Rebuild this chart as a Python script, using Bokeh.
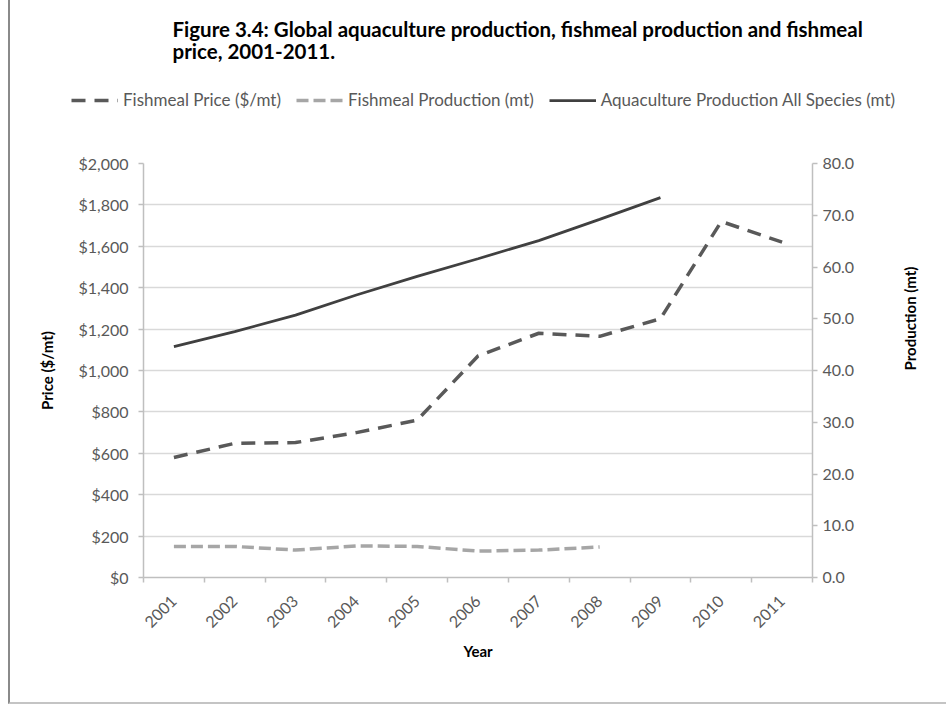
import math
from bokeh.plotting import figure
from bokeh.layouts import column
from bokeh.models import (Range1d, LinearAxis, FixedTicker, NumeralTickFormatter,
                          Legend, LegendItem, Label)
from bokeh.embed import file_html
from bokeh.resources import INLINE

# ---- data ----
years = [2001, 2002, 2003, 2004, 2005, 2006, 2007, 2008, 2009, 2010, 2011]
fishmeal_price = [580, 648, 652, 700, 760, 1070, 1180, 1165, 1250, 1720, 1620]     # $/mt
fishmeal_prod_years = [2001, 2002, 2003, 2004, 2005, 2006, 2007, 2008]
fishmeal_prod = [6.0, 6.0, 5.3, 6.1, 6.0, 5.1, 5.3, 5.9]                          # mt
aqua_years = [2001, 2002, 2003, 2004, 2005, 2006, 2007, 2008, 2009]
aqua_prod = [44.6, 47.5, 50.7, 54.6, 58.2, 61.6, 65.1, 69.2, 73.4]                # mt
price_ticks = [0, 200, 400, 600, 800, 1000, 1200, 1400, 1600, 1800, 2000]
prod_ticks = [0, 10, 20, 30, 40, 50, 60, 70, 80]
title_lines = ["Figure 3.4: Global aquaculture production, fishmeal production and fishmeal",
               "price, 2001-2011."]
series_names = ["Fishmeal Price ($/mt)", "Fishmeal Production (mt)",
                "Aquaculture Production All Species (mt)"]

FONT = "Lato"
GRAY_TXT = "#595959"
AXIS_GRAY = "#bfbfbf"
W = 936
TOP_H = 153
MAIN_H = 549

style_price = dict(line_color="#595959", line_width=3.5, line_dash="14 9")
style_fprod = dict(line_color="#a6a6a6", line_width=3.5, line_dash="12 5")
style_aqua = dict(line_color="#404040", line_width=2.75)

# ---------------- header: title + legend ----------------
head = figure(width=W, height=TOP_H, x_range=Range1d(0, W), y_range=Range1d(TOP_H, 0),
              x_axis_location=None, y_axis_location=None, min_border=0,
              output_backend="svg", toolbar_location=None)
head.outline_line_color = None
head.grid.visible = False
head.background_fill_color = "white"
head.border_fill_color = "white"
if "frame_align" in head.properties():
    head.frame_align = False

for i, line in enumerate(title_lines):
    head.add_layout(Label(x=162, y=28 + 22 * i, text=line, text_font=FONT,
                          text_font_style="bold", text_font_size="20.5px",
                          text_color="black", text_baseline="middle",
                          text_align="left"))

# legend-only renderers (a single empty point each, nothing visible is drawn)
h_price = head.line(x=[math.nan], y=[math.nan], **style_price)
h_fprod = head.line(x=[math.nan], y=[math.nan], **style_fprod)
h_aqua = head.line(x=[math.nan], y=[math.nan], **style_aqua)
legend = Legend(items=[LegendItem(label=series_names[0], renderers=[h_price]),
                       LegendItem(label=series_names[1], renderers=[h_fprod]),
                       LegendItem(label=series_names[2], renderers=[h_aqua])],
                orientation="horizontal", location=(61, 43),
                glyph_width=47, glyph_height=16, label_standoff=5, spacing=15,
                padding=0, margin=0, border_line_color=None,
                background_fill_alpha=0,
                label_text_font=FONT, label_text_font_size="17px",
                label_text_color=GRAY_TXT)
head.add_layout(legend, "center")

# ---------------- main chart ----------------
p = figure(width=W, height=MAIN_H,
           x_range=Range1d(years[0] - 0.5, years[-1] + 0.5),
           y_range=Range1d(price_ticks[0], price_ticks[-1]),
           output_backend="svg", toolbar_location=None,
           min_border_left=133, min_border_right=134,
           min_border_top=10, min_border_bottom=125)
p.outline_line_color = None
p.background_fill_color = "white"
p.border_fill_color = "white"
if "frame_align" in p.properties():
    p.frame_align = False
p.extra_y_ranges = {"prod": Range1d(prod_ticks[0], prod_ticks[-1])}

p.xgrid.grid_line_color = None
p.ygrid.grid_line_color = "#d9d9d9"
p.ygrid.grid_line_width = 1.5
p.ygrid.ticker = FixedTicker(ticks=price_ticks)

ya = p.yaxis[0]
ya.ticker = FixedTicker(ticks=price_ticks)
ya.formatter = NumeralTickFormatter(format="$0,0")
ya.axis_line_color = AXIS_GRAY
ya.axis_line_width = 1.5
ya.major_tick_line_color = AXIS_GRAY
ya.major_tick_line_width = 1.5
ya.major_tick_out = 5
ya.major_tick_in = 0
ya.minor_tick_line_color = None
ya.major_label_standoff = 10
ya.major_label_text_font = FONT
ya.major_label_text_font_size = "16px"
ya.major_label_text_color = GRAY_TXT
ya.axis_label = "Price ($/mt)"
ya.axis_label_text_font = FONT
ya.axis_label_text_font_style = "bold"
ya.axis_label_text_font_size = "15px"
ya.axis_label_text_color = "black"
ya.axis_label_standoff = 19

ra = LinearAxis(y_range_name="prod", ticker=FixedTicker(ticks=prod_ticks),
                formatter=NumeralTickFormatter(format="0.0"))
ra.axis_line_color = AXIS_GRAY
ra.axis_line_width = 1.5
ra.major_tick_line_color = AXIS_GRAY
ra.major_tick_line_width = 1.5
ra.major_tick_out = 5
ra.major_tick_in = 0
ra.minor_tick_line_color = None
ra.major_label_standoff = 5
ra.major_label_text_font = FONT
ra.major_label_text_font_size = "16px"
ra.major_label_text_color = GRAY_TXT
ra.axis_label = "Production (mt)"
ra.axis_label_text_font = FONT
ra.axis_label_text_font_style = "bold"
ra.axis_label_text_font_size = "15px"
ra.axis_label_text_color = "black"
ra.axis_label_standoff = 53
if "axis_label_orientation" in ra.properties():
    ra.axis_label_orientation = math.pi / 2
p.add_layout(ra, "right")

xa = p.xaxis[0]
xa.ticker = FixedTicker(ticks=years, minor_ticks=[y + 0.5 for y in [years[0] - 1] + years])
xa.axis_line_color = AXIS_GRAY
xa.axis_line_width = 1.5
xa.major_tick_out = 0
xa.major_tick_in = 0
xa.minor_tick_out = 5
xa.minor_tick_in = 0
xa.minor_tick_line_color = AXIS_GRAY
xa.minor_tick_line_width = 1.5
xa.major_label_orientation = math.pi / 4
xa.major_label_standoff = 16
xa.major_label_text_font = FONT
xa.major_label_text_font_size = "16px"
xa.major_label_text_color = GRAY_TXT
xa.axis_label = "Year"
xa.axis_label_text_font = FONT
xa.axis_label_text_font_style = "bold"
xa.axis_label_text_font_size = "15px"
xa.axis_label_text_color = "black"
xa.axis_label_standoff = 6

p.line(years, fishmeal_price, **style_price)
p.line(fishmeal_prod_years, fishmeal_prod, y_range_name="prod", **style_fprod)
p.line(aqua_years, aqua_prod, y_range_name="prod", **style_aqua)

page = column(head, p, spacing=0,
              styles={"margin-left": "8px",
                      "border-left": "2px solid #8a8a8a",
                      "border-bottom": "2px solid #c4c4c4"})

open("out.html", "w").write(file_html(page, INLINE))
